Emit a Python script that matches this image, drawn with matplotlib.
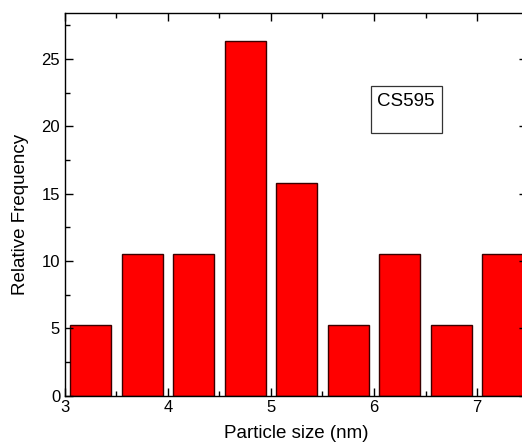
import matplotlib.pyplot as plt
from matplotlib.patches import Rectangle
from matplotlib.ticker import MultipleLocator

plt.rcParams["font.family"] = ["Liberation Sans", "DejaVu Sans"]

# histogram of particle sizes (bin centres, nm) and relative frequency (%)
sizes = [3.25, 3.75, 4.25, 4.75, 5.25, 5.75, 6.25, 6.75, 7.25]
freq = [5.26, 10.53, 10.53, 26.32, 15.79, 5.26, 10.53, 5.26, 10.53]
sample = "CS595"

fig = plt.figure(figsize=(5.22, 4.45), dpi=100)
# right spine sits just past the image edge, as in the original
ax = fig.add_axes([0.1245, 0.111, 0.885, 0.859])

ax.bar(sizes, freq, width=0.4, color="#ff0000", edgecolor="#3a0000", linewidth=1.0)

ax.set_xlim(3, 7.485)
ax.set_ylim(0, 28.4)
ax.xaxis.set_major_locator(MultipleLocator(1))
ax.xaxis.set_minor_locator(MultipleLocator(0.5))
ax.yaxis.set_major_locator(MultipleLocator(5))
ax.yaxis.set_minor_locator(MultipleLocator(2.5))
ax.tick_params(which="both", direction="in", top=True, right=True, labelsize=12, width=1.0)
ax.tick_params(which="major", length=6)
ax.tick_params(which="minor", length=3.5)
for s in ax.spines.values():
    s.set_linewidth(1.0)

ax.set_xlabel("Particle size (nm)", fontsize=13.5, labelpad=7)
ax.set_ylabel("Relative Frequency", fontsize=13.5)
ax.yaxis.set_label_coords(-0.078, 0.475)

ax.add_patch(Rectangle((5.97, 19.5), 0.69, 3.53, fill=False, edgecolor="#333333", linewidth=0.9))
ax.text(6.03, 22.5, sample, ha="left", va="top", fontsize=13.5)

fig.savefig("out.png", dpi=100)
